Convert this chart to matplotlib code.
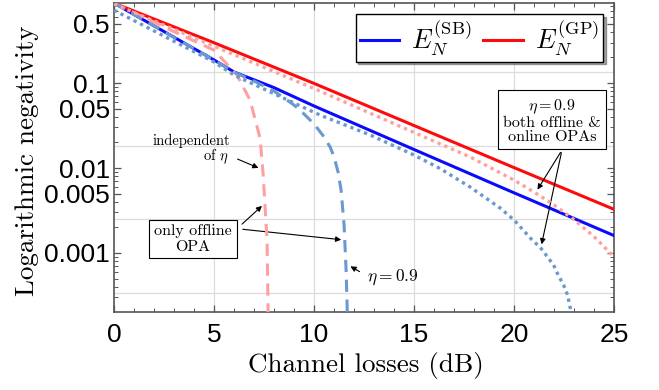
import matplotlib
matplotlib.use("Agg")
import matplotlib.pyplot as plt
import numpy as np
from matplotlib.ticker import FixedLocator, NullFormatter

plt.rcParams["mathtext.fontset"] = "cm"

# channel losses (dB) and logarithmic negativity
sb_db = [0, 2.5, 5, 6, 8, 10, 15, 20, 25]
sb_val = [0.873, 0.404, 0.187, 0.135, 0.0883, 0.0537, 0.0165, 0.0051, 0.0016]

gp_db = [0, 5, 10, 15, 20, 25]
gp_val = [0.873, 0.298, 0.099, 0.0316, 0.0101, 0.00326]

sb_off_db = [0, 2.5, 5, 6, 7, 7.5, 8, 8.5, 9, 9.5, 10, 10.5, 10.8, 11, 11.2,
             11.35, 11.5, 11.6, 11.66, 11.7]
sb_off_val = [0.873, 0.404, 0.187, 0.1345, 0.1056, 0.0922, 0.0805, 0.0666, 0.0551,
              0.0432, 0.0330, 0.0232, 0.0177, 0.0135, 0.00897, 0.0055, 0.00213,
              0.00063, 0.000202, 1e-5]

gp_off_db = [0, 2.5, 5, 6.15, 6.8, 7.3, 7.45, 7.65, 7.7, 7.72]
gp_off_val = [0.873, 0.456, 0.244, 0.124, 0.063, 0.0225, 0.0087, 0.0014, 0.00023, 1e-5]

gp_both_db = [0, 5, 10, 15, 17.8, 20, 21, 22, 23, 24, 25]
gp_both_val = [0.85, 0.272, 0.0861, 0.0262, 0.0135, 0.0072, 0.0052, 0.00367,
               0.00246, 0.00155, 0.0009]

sb_both_db = [0, 2.5, 5, 6, 10.3, 12.8, 15, 16.3, 17.8, 19.3, 20, 20.9, 21.3,
              21.63, 21.97, 22.2, 22.47, 22.67, 22.83, 22.95]
sb_both_val = [0.72, 0.357, 0.177, 0.124, 0.042, 0.0245, 0.0142, 0.00985,
               0.00597, 0.00338, 0.00244, 0.00142, 0.00117, 0.000922, 0.000723,
               0.000551, 0.00042, 0.00032, 0.00021, 0.0001]

ytick_vals = [0.5, 0.1, 0.05, 0.01, 0.005, 0.001]
ytick_labels = ["0.5", "0.1", "0.05", "0.01", "0.005", "0.001"]
xtick_vals = [0, 5, 10, 15, 20, 25]

BLUE = "#0a0aff"
RED = "#ff0a0a"
LBLUE = "#6a98d0"
PINK = "#ffa0a0"
SERIF = "cmr10"

fig = plt.figure(figsize=(6.59, 3.90), dpi=100)
ax = fig.add_axes([0.173, 0.2, 0.759, 0.792])

ax.plot(sb_db, sb_val, color=BLUE, lw=2.2, zorder=3, label=r"$E_N^{(\mathrm{SB})}$")
ax.plot(gp_db, gp_val, color=RED, lw=2.2, zorder=3, label=r"$E_N^{(\mathrm{GP})}$")
ax.plot(gp_off_db, gp_off_val, color=PINK, lw=2.2, ls=(0, (4, 2.5)), zorder=4)
ax.plot(sb_off_db, sb_off_val, color=LBLUE, lw=2.2, ls=(0, (4, 2.5)), zorder=4)
ax.plot(gp_both_db, gp_both_val, color=PINK, lw=2.4, ls=(0, (1, 1.2)), zorder=4)
ax.plot(sb_both_db, sb_both_val, color=LBLUE, lw=2.4, ls=(0, (1, 1.2)), zorder=4)

ax.set_yscale("log")
ax.set_xlim(0, 25)
ax.set_ylim(2.02e-4, 0.873)

# natural-log grid like the original
for g in np.exp([-2, -4, -6, -8]):
    ax.axhline(g, color="#dcdcdc", lw=0.9, zorder=0)
for g in [5, 10, 15, 20]:
    ax.axvline(g, color="#dcdcdc", lw=0.9, zorder=0)

ax.xaxis.set_major_locator(FixedLocator(xtick_vals))
ax.xaxis.set_minor_locator(FixedLocator(np.arange(0, 26, 1)))
ax.yaxis.set_major_locator(FixedLocator(ytick_vals))
ax.set_yticklabels(ytick_labels)
minor_y = [m * 10.0 ** e for e in range(-4, 1) for m in range(2, 10)]
ax.yaxis.set_minor_locator(FixedLocator(minor_y))
ax.yaxis.set_minor_formatter(NullFormatter())

for lab in ax.get_xticklabels() + ax.get_yticklabels():
    lab.set_fontfamily("Liberation Sans")
    lab.set_fontsize(19)

ax.tick_params(which="both", direction="in", top=True, right=True, colors="#555555",
               labelcolor="black")
ax.tick_params(which="major", length=5, width=0.9)
ax.tick_params(which="minor", length=3, width=0.7)
ax.tick_params(axis="x", which="major", pad=8)
ax.tick_params(axis="y", which="major", pad=3)
for s in ax.spines.values():
    s.set_color("#555555")
    s.set_linewidth(1.2)

ax.set_xlabel("Channel losses (dB)", family=SERIF, fontsize=19.5, va="center")
ax.xaxis.set_label_coords(0.504, -0.172)
ax.set_ylabel("Logarithmic negativity", family=SERIF, fontsize=19.5, va="center")
ax.yaxis.set_label_coords(-0.174, 0.49)

leg = ax.legend(loc="upper right", bbox_to_anchor=(0.978, 0.964), ncol=2, fontsize=19,
                frameon=True, fancybox=False, shadow=True, handlelength=1.5,
                columnspacing=0.45, handletextpad=0.45, borderpad=0.15,
                borderaxespad=0)
leg.get_frame().set_edgecolor("black")
leg.get_frame().set_linewidth(1.0)

arrow = dict(arrowstyle="-|>", color="black", lw=0.8, mutation_scale=8)
box = dict(boxstyle="square,pad=0.3", fc="white", ec="black", lw=0.8)


def fig_xy(px, py):
    return px / 659, 1 - py / 390


ax.annotate("independent", xy=fig_xy(191, 141), xycoords="figure fraction",
            ha="center", va="center", family=SERIF, fontsize=10.5)
ax.annotate(r"of $\eta$", xy=fig_xy(216, 157), xycoords="figure fraction",
            ha="center", va="center", family=SERIF, fontsize=10.5)
ax.annotate("", xy=fig_xy(261, 169), xytext=fig_xy(235, 158),
            xycoords="figure fraction", textcoords="figure fraction", arrowprops=arrow)

ax.annotate("only offline\nOPA", xy=fig_xy(193, 239), xycoords="figure fraction",
            ha="center", va="center", family=SERIF, fontsize=11.5, bbox=box,
            linespacing=1.15, zorder=6)
ax.annotate("", xy=fig_xy(264, 204), xytext=fig_xy(240, 226),
            xycoords="figure fraction", textcoords="figure fraction", arrowprops=arrow)
ax.annotate("", xy=fig_xy(344, 240), xytext=fig_xy(240, 229),
            xycoords="figure fraction", textcoords="figure fraction", arrowprops=arrow)

ax.annotate(r"$\eta = 0.9$", xy=fig_xy(393, 277), xycoords="figure fraction",
            ha="center", va="center", fontsize=12.5)
ax.annotate("", xy=fig_xy(348, 265), xytext=fig_xy(362, 273),
            xycoords="figure fraction", textcoords="figure fraction", arrowprops=arrow)

ax.annotate("$\\eta = 0.9$\nboth offline &\nonline OPAs", xy=fig_xy(552, 121),
            xycoords="figure fraction", ha="center", va="center", family=SERIF,
            fontsize=11.5, bbox=box, linespacing=1.05, zorder=6)
ax.annotate("", xy=fig_xy(536, 192), xytext=fig_xy(562, 150),
            xycoords="figure fraction", textcoords="figure fraction", arrowprops=arrow)
ax.annotate("", xy=fig_xy(541, 247), xytext=fig_xy(562, 150),
            xycoords="figure fraction", textcoords="figure fraction", arrowprops=arrow)

fig.savefig("out.png", dpi=100)
